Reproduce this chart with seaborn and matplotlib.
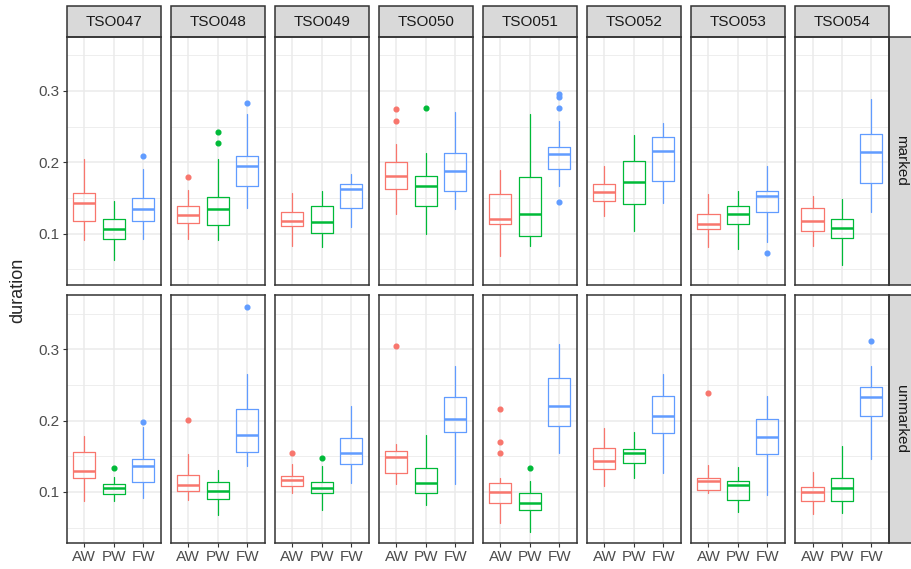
import matplotlib
matplotlib.use("Agg")
import matplotlib.pyplot as plt
import seaborn as sns
from matplotlib.patches import Rectangle
from matplotlib.ticker import MultipleLocator

speakers = ["TSO047", "TSO048", "TSO049", "TSO050", "TSO051", "TSO052", "TSO053", "TSO054"]
conditions = ["marked", "unmarked"]
groups = ["AW", "PW", "FW"]

# five-number summaries, one [AW, PW, FW] triple per speaker
marked_lo = [[.091, .063, .093], [.092, .091, .136], [.082, .081, .109], [.127, .100, .134],
             [.069, .083, .166], [.125, .103, .143], [.081, .079, .088], [.082, .056, .130]]
marked_q1 = [[.118, .092, .117], [.115, .112, .167], [.110, .101, .136], [.163, .139, .160],
             [.114, .097, .191], [.146, .142, .174], [.106, .113, .130], [.104, .094, .171]]
marked_med = [[.143, .107, .134], [.126, .134, .194], [.118, .116, .163], [.181, .166, .188],
              [.120, .128, .212], [.158, .172, .216], [.114, .127, .152], [.117, .108, .214]]
marked_q3 = [[.157, .121, .150], [.138, .151, .209], [.130, .138, .169], [.200, .181, .213],
             [.156, .179, .221], [.170, .201, .235], [.128, .139, .160], [.136, .120, .239]]
marked_hi = [[.204, .145, .191], [.161, .204, .268], [.157, .160, .183], [.225, .213, .271],
             [.189, .267, .258], [.194, .238, .255], [.156, .160, .195], [.153, .148, .289]]
marked_out = [[[], [], [.209]], [[.179], [.227, .243], [.283]], [[], [], []],
              [[.258, .275], [.276], []], [[], [], [.144, .276, .292, .295]],
              [[], [], []], [[], [], [.073]], [[], [], []]]

unmarked_lo = [[.087, .088, .091], [.089, .068, .137], [.098, .075, .113], [.111, .082, .111],
               [.056, .044, .155], [.108, .120, .126], [.098, .072, .096], [.069, .071, .146]]
unmarked_q1 = [[.120, .097, .114], [.102, .090, .156], [.109, .098, .139], [.127, .098, .184],
               [.084, .075, .193], [.132, .140, .182], [.103, .089, .153], [.088, .087, .206]]
unmarked_med = [[.130, .106, .136], [.110, .101, .180], [.117, .105, .154], [.149, .113, .202],
                [.100, .085, .221], [.143, .154, .207], [.115, .110, .177], [.100, .105, .233]]
unmarked_q3 = [[.156, .111, .146], [.124, .114, .217], [.123, .114, .175], [.158, .133, .233],
               [.113, .099, .260], [.161, .160, .234], [.119, .116, .202], [.107, .120, .247]]
unmarked_hi = [[.179, .121, .191], [.153, .131, .266], [.139, .137, .221], [.167, .180, .276],
               [.119, .116, .307], [.189, .184, .266], [.138, .135, .234], [.128, .164, .277]]
unmarked_out = [[[], [.133], [.198]], [[.201], [], [.359]], [[.154], [.147], []],
                [[.305], [], []], [[.155, .170, .217], [.134], []],
                [[], [], []], [[.239], [], []], [[], [], [.312]]]

summaries = {
    "marked": (marked_lo, marked_q1, marked_med, marked_q3, marked_hi, marked_out),
    "unmarked": (unmarked_lo, unmarked_q1, unmarked_med, unmarked_q3, unmarked_hi, unmarked_out),
}

sns.set_theme(style="white")
plt.rcParams["font.family"] = ["Liberation Sans", "DejaVu Sans"]
palette = ["#F8766D", "#00BA38", "#619CFF"]

fig, axes = plt.subplots(2, 8, figsize=(9.12, 5.69), dpi=100, sharey=True)
fig.subplots_adjust(left=0.0731, right=0.9748, top=0.935, bottom=0.0457,
                    wspace=0.105, hspace=0.044)

for r, cond in enumerate(conditions):
    lo, q1, med, q3, hi, out = summaries[cond]
    for c, spk in enumerate(speakers):
        ax = axes[r, c]
        ax.set_facecolor("white")
        for g, grp in enumerate(groups):
            stats = [{"whislo": lo[c][g], "q1": q1[c][g], "med": med[c][g],
                      "q3": q3[c][g], "whishi": hi[c][g], "fliers": out[c][g], "label": grp}]
            col = palette[g]
            ax.bxp(stats, positions=[g + 1], widths=0.75, showcaps=False,
                   patch_artist=False, manage_ticks=False,
                   boxprops=dict(color=col, lw=0.9),
                   whiskerprops=dict(color=col, lw=0.9),
                   medianprops=dict(color=col, lw=1.8),
                   flierprops=dict(marker="o", markerfacecolor=col, markeredgecolor=col,
                                   markersize=3.4, linestyle="none"))
        ax.set_xlim(0.4, 3.6)
        ax.set_ylim(0.0285, 0.3755)
        ax.set_xticks([1, 2, 3])
        ax.set_xticklabels(groups)
        ax.yaxis.set_major_locator(MultipleLocator(0.1))
        ax.yaxis.set_minor_locator(MultipleLocator(0.05))
        ax.grid(which="major", color="#EBEBEB", lw=1.1)
        ax.grid(which="minor", axis="y", color="#EBEBEB", lw=0.6)
        ax.set_axisbelow(True)
        for s in ax.spines.values():
            s.set_color("#333333")
            s.set_linewidth(1.1)
        ax.tick_params(axis="both", which="major", length=3, width=0.8, color="#333333",
                       labelsize=11, labelcolor="#4D4D4D", pad=2)
        ax.tick_params(axis="both", which="minor", length=0)
        ax.tick_params(axis="y", left=(c == 0), labelleft=(c == 0))
        ax.tick_params(axis="x", bottom=(r == 1), labelbottom=(r == 1))
        ax.set_xlabel("")
        ax.set_ylabel("")

        # column strip on top row
        if r == 0:
            h = 31 / 248
            ax.add_patch(Rectangle((0, 1), 1, h, transform=ax.transAxes, clip_on=False,
                                   facecolor="#D9D9D9", edgecolor="#333333", lw=1.1))
            ax.text(0.5, 1 + h / 2, spk, transform=ax.transAxes, ha="center", va="center",
                    fontsize=11, color="#1A1A1A")
        # row strip on last column
        if c == len(speakers) - 1:
            w = 24 / 94.3
            ax.add_patch(Rectangle((1, 0), w, 1, transform=ax.transAxes, clip_on=False,
                                   facecolor="#D9D9D9", edgecolor="#333333", lw=1.1))
            ax.text(1 + w / 2, 0.5, cond, transform=ax.transAxes, ha="center", va="center",
                    rotation=-90, fontsize=11, color="#1A1A1A")

fig.text(0.02, 0.49, "duration", rotation=90, ha="center", va="center", fontsize=13)

fig.savefig("out.png", dpi=100)
